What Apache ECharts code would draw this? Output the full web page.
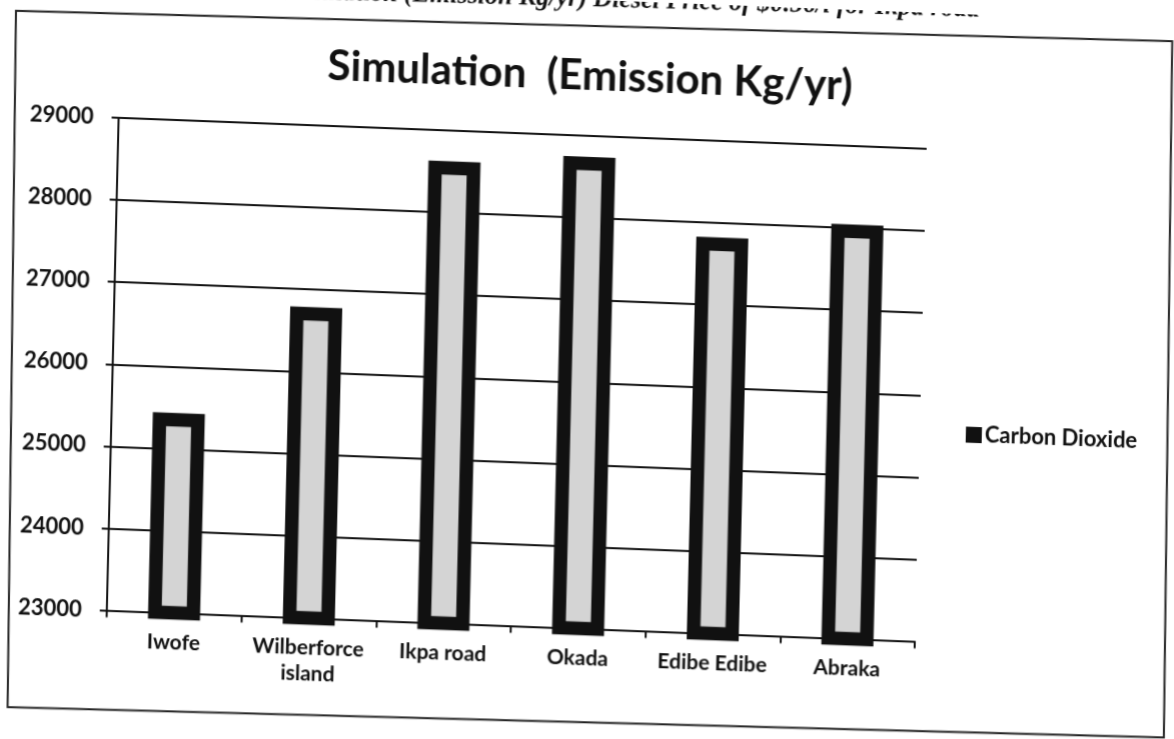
<!DOCTYPE html>
<html>
<head>
<meta charset="utf-8">
<script src="https://cdn.jsdelivr.net/npm/echarts@6/dist/echarts.min.js"></script>
<style>
  html, body { margin: 0; padding: 0; background: #ffffff; overflow: hidden; }
  /* scanned page: horizontal lines tilt ~2.2deg, verticals ~1.4deg */
  #chart { width: 1174px; height: 739px; transform: matrix(1, 0.0384, -0.024, 1, 0, 0); transform-origin: 587px 369.5px; }
</style>
</head>
<body>
<div id="chart"></div>
<script>
// ---- data ----
const titleText = 'Simulation  (Emission Kg/yr)';
const captionText = 'Simulation (Emission Kg/yr) Diesel Price of $0.56/l for Ikpa road';
const categories = ['Iwofe', 'Wilberforce\nisland', 'Ikpa road', 'Okada', 'Edibe Edibe', 'Abraka'];
const seriesName = 'Carbon Dioxide';
const co2Values = [25435, 26785, 28625, 28745, 27825, 28045];
const yMin = 23000, yMax = 29000, yStep = 1000;

const FONT = 'Lato, "Open Sans", sans-serif';
const frameRot = 0.012;   // frame/caption tilt less than the plot
const chart = echarts.init(document.getElementById('chart'), null, { renderer: 'canvas' });
chart.setOption({
  backgroundColor: '#ffffff',
  animation: false,
  title: {
    text: titleText,
    left: 578, top: 50, textAlign: 'center',
    textStyle: { fontFamily: FONT, fontWeight: 'bold', fontSize: 42, color: '#111' }
  },
  graphic: [
    { type: 'rect', x: 590, y: 374, rotation: frameRot,
      shape: { x: -578, y: -348, width: 1156, height: 696 },
      style: { fill: 'none', stroke: '#222', lineWidth: 2 }, silent: true },
    { type: 'text', x: 971, y: 8, rotation: frameRot,
      style: { text: captionText, align: 'right', verticalAlign: 'bottom',
               font: 'italic bold 26px "Liberation Serif", serif', fill: '#111' } }
  ],
  legend: {
    data: [seriesName],
    left: 962, top: 404,
    orient: 'vertical',
    icon: 'rect', itemWidth: 16, itemHeight: 16, itemGap: 6,
    itemStyle: { color: '#111', borderWidth: 0 },
    textStyle: { fontFamily: FONT, fontWeight: 'bold', fontSize: 22, color: '#111', padding: [0, 0, 0, -2] }
  },
  grid: { left: 113, right: 253, top: 136, bottom: 110.5, containLabel: false },
  xAxis: {
    type: 'category',
    data: categories,
    boundaryGap: true,
    axisLine: { lineStyle: { color: '#111', width: 2 } },
    axisTick: { show: true, alignWithLabel: false, length: 7, lineStyle: { color: '#111', width: 2 } },
    axisLabel: { margin: 17, interval: 0, lineHeight: 26, fontFamily: FONT, fontWeight: 'bold', fontSize: 21, color: '#111' }
  },
  yAxis: {
    type: 'value',
    min: yMin, max: yMax, interval: yStep,
    axisLine: { show: true, lineStyle: { color: '#111', width: 2 } },
    axisTick: { show: true, length: 7, lineStyle: { color: '#111', width: 2 } },
    splitLine: { lineStyle: { color: '#111', width: 2 } },
    axisLabel: { margin: 25, fontFamily: FONT, fontWeight: 'bold', fontSize: 22, color: '#111',
                 formatter: v => String(v) }
  },
  series: [{
    name: seriesName,
    type: 'bar',
    data: co2Values,
    barWidth: 52,
    itemStyle: { color: '#d4d4d4', borderColor: '#111', borderWidth: 13.5 }
  }]
});
</script>
</body>
</html>
